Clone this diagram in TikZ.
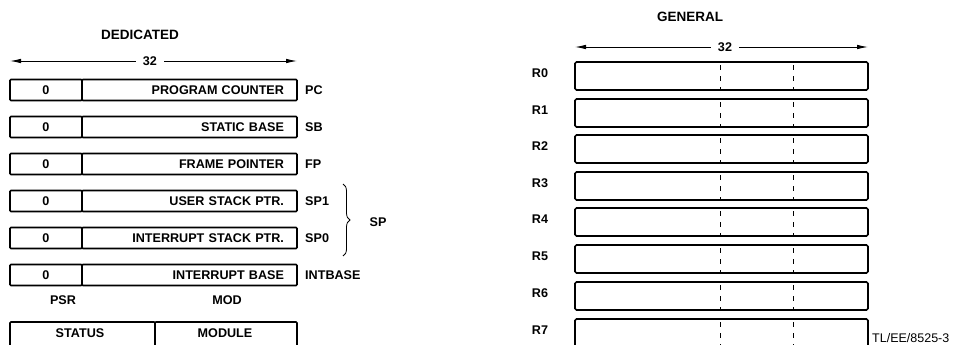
\documentclass[tikz,border=0pt]{standalone}
\usepackage{fontspec}
\setmainfont{Liberation Sans}
\usetikzlibrary{arrows.meta,decorations.pathreplacing}
\begin{document}
\begin{tikzpicture}[x=1pt,y=-1pt,
  lbl/.style={font=\bfseries\fontsize{12.6}{14}\selectfont, inner sep=0pt},
  ttl/.style={font=\bfseries\fontsize{13.5}{15}\selectfont, inner sep=0pt},
  cell/.style={draw, line width=1.7pt, rounded corners=1pt, minimum height=21pt, inner sep=0pt, font=\bfseries\fontsize{12.6}{14}\selectfont},
  gbox/.style={draw, line width=1.7pt, rounded corners=1.5pt, minimum width=293pt, minimum height=28pt, inner sep=0pt},
  dim/.style={line width=0.9pt, -{Latex[length=11pt,width=4.5pt]}},
  sep/.style={line width=0.8pt, dash pattern=on 5pt off 6pt},
]
\useasboundingbox (0,0) rectangle (967,345);

% ---------------- DEDICATED ----------------
\node[ttl] (ded) at (140,35) {DEDICATED};
\node[lbl] (d32) at (150,61) {32};
\coordinate (dl) at (10,61);
\coordinate (dr) at (297,61);
\draw[dim] ([xshift=-7pt]d32.west) -- (dl);
\draw[dim] ([xshift=7pt]d32.east) -- (dr);

\foreach \yc/\txt/\reg/\nm in {90/PROGRAM COUNTER/PC/pc, 127/STATIC BASE/SB/sb, 164/FRAME POINTER/FP/fp, 201/USER STACK PTR./SP1/spa, 238/INTERRUPT STACK PTR./SP0/spb, 275/INTERRUPT BASE/INTBASE/ib}{
  \node[cell, minimum width=72pt] (z\nm) at (46,\yc) {0};
  \node[cell, minimum width=215pt, text width=189pt, align=right] (v\nm) at (189.5,\yc) {\txt};
  \node[lbl, anchor=west] (r\nm) at (305,\yc) {\reg};
}

\coordinate (bt) at (343,184);
\coordinate (bb) at (343,256);
\draw[decorate, decoration={brace, amplitude=7pt}, line width=0.8pt] (bt) -- (bb);
\node[lbl] (sp) at (378,222) {SP};

\node[lbl] (psr) at (63,300) {PSR};
\node[lbl] (mod) at (227,300) {MOD};
\node[cell, minimum width=145pt, minimum height=26pt] (status) at (82.5,335) {};
\node[cell, minimum width=142pt, minimum height=26pt] (module) at (226,335) {};
\node[lbl] (statust) at (80,333) {STATUS};
\node[lbl] (modulet) at (225,333) {MODULE};

% ---------------- GENERAL ----------------
\node[ttl] (gen) at (690,17) {GENERAL};
\node[lbl] (g32) at (725,47) {32};
\coordinate (gl) at (575,47);
\coordinate (gr) at (868,47);
\draw[dim] ([xshift=-7pt]g32.west) -- (gl);
\draw[dim] ([xshift=7pt]g32.east) -- (gr);

\foreach \i/\yc in {0/76, 1/113, 2/149, 3/186, 4/222, 5/259, 6/296, 7/333}{
  \node[lbl] (rl\i) at (540,\yc-3) {R\i};
  \node[gbox] (g\i) at (721.5,\yc) {};
  \draw[sep] ([xshift=-1.5pt]g\i.north) ++(0,4) coordinate (a\i) -- ([xshift=-1.5pt]g\i.south);
  \draw[sep] ([xshift=71.5pt]g\i.north) ++(0,4) coordinate (b\i) -- ([xshift=71.5pt]g\i.south);
}

\node[anchor=south west, inner sep=0pt, font=\fontsize{12.5}{14}\selectfont] (tl) at (872,343) {TL/EE/8525-3};
\end{tikzpicture}
\end{document}
